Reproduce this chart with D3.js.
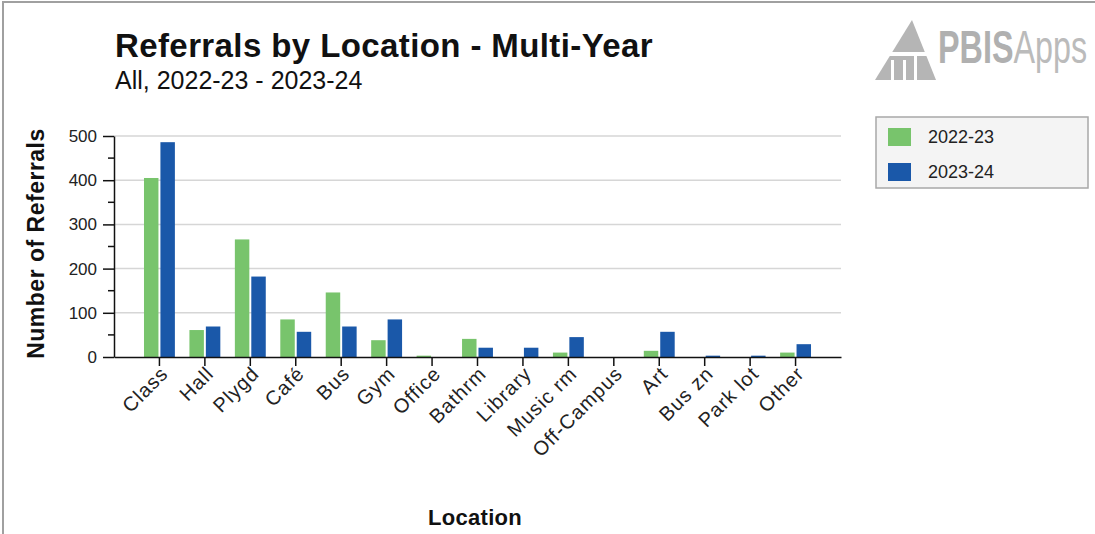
<!DOCTYPE html>
<html>
<head>
<meta charset="utf-8">
<script src="https://cdn.jsdelivr.net/npm/d3@7"></script>
<style>
  body { margin: 0; background: #fff; }
  svg text { font-family: "Liberation Sans", Arial, sans-serif; }
</style>
</head>
<body>
<div id="chart"></div>
<script>
const width = 1095;
const height = 534;

// data
const categories = ["Class", "Hall", "Plygd", "Café", "Bus", "Gym", "Office", "Bathrm", "Library", "Music rm", "Off-Campus", "Art", "Bus zn", "Park lot", "Other"];
const seriesNames = ["2022-23", "2023-24"];
const values2223 = [405, 61, 266, 85, 146, 38, 3, 41, 0, 10, 0, 14, 0, 0, 10];
const values2324 = [486, 69, 182, 57, 69, 85, 0, 21, 21, 45, 0, 57, 3, 3, 29];
const yTicks = [0, 100, 200, 300, 400, 500];
const colors = ["#78c46c", "#1a58a9"];

const svg = d3.select("#chart")
    .append("svg")
    .attr("width", width)
    .attr("height", height);

// frame
svg.append("rect")
    .attr("x", 3).attr("y", 2)
    .attr("width", width + 10).attr("height", height + 10)
    .attr("fill", "#fff")
    .attr("stroke", "#a0a0a0")
    .attr("stroke-width", 2);

const plot = { left: 114, right: 841, top: 136, bottom: 357 };

const x0 = d3.scaleBand()
    .domain(categories)
    .range([plot.left, plot.right])
    .paddingInner(0)
    .paddingOuter(0.5);

const groupW = x0.bandwidth() * 0.68;
const x1 = d3.scaleBand()
    .domain(seriesNames)
    .range([-groupW / 2, groupW / 2])
    .paddingInner(0.12);

const y = d3.scaleLinear()
    .domain([0, 500])
    .range([plot.bottom, plot.top]);

// grid
svg.append("g")
    .selectAll("line")
    .data(yTicks.filter(d => d > 0))
    .enter()
    .append("line")
    .attr("x1", plot.left)
    .attr("x2", plot.right)
    .attr("y1", d => y(d))
    .attr("y2", d => y(d))
    .attr("stroke", "#d6d6d6")
    .attr("stroke-width", 1.5);

// bars
const rows = categories.map((c, i) => ({ cat: c, vals: [values2223[i], values2324[i]] }));

const group = svg.append("g")
    .selectAll("g")
    .data(rows)
    .enter()
    .append("g")
    .attr("transform", d => `translate(${x0(d.cat) + x0.bandwidth() / 2},0)`);

group.selectAll("rect")
    .data(d => d.vals.map((v, i) => ({ key: seriesNames[i], v: v, i: i })))
    .enter()
    .append("rect")
    .filter(d => d.v > 0)
    .attr("x", d => x1(d.key))
    .attr("y", d => y(d.v))
    .attr("width", x1.bandwidth())
    .attr("height", d => y(0) - y(d.v))
    .attr("fill", d => colors[d.i]);

// y axis
const yAxis = svg.append("g")
    .attr("transform", `translate(${plot.left},0)`)
    .call(d3.axisLeft(y).tickValues(yTicks).tickSize(11).tickPadding(6).tickSizeOuter(0));
yAxis.select(".domain").attr("stroke", "#111").attr("stroke-width", 1.5);
yAxis.selectAll(".tick line").attr("stroke", "#111").attr("stroke-width", 1.5);
yAxis.selectAll("text").style("font-size", "17px").attr("fill", "#222");

// minor ticks
svg.append("g")
    .selectAll("line")
    .data(d3.range(50, 500, 100))
    .enter()
    .append("line")
    .attr("x1", plot.left - 6)
    .attr("x2", plot.left)
    .attr("y1", d => y(d))
    .attr("y2", d => y(d))
    .attr("stroke", "#111")
    .attr("stroke-width", 1.5);

// x axis
const xAxis = svg.append("g")
    .attr("transform", `translate(0,${plot.bottom})`)
    .call(d3.axisBottom(x0).tickSize(9).tickSizeOuter(0));
xAxis.select(".domain").attr("stroke", "#111").attr("stroke-width", 1.5);
xAxis.selectAll(".tick line").attr("stroke", "#111").attr("stroke-width", 1.5);
xAxis.selectAll("text")
    .style("font-size", "20px")
    .style("letter-spacing", "1px")
    .attr("fill", "#222")
    .attr("text-anchor", "end")
    .attr("dy", "0.35em")
    .attr("transform", "translate(5,13) rotate(-45)")
    .attr("y", 0)
    .attr("x", 0);

// titles
svg.append("text")
    .attr("x", 115).attr("y", 57)
    .style("font-size", "33px")
    .style("font-weight", "bold")
    .style("letter-spacing", "0.4px")
    .attr("fill", "#111")
    .text("Referrals by Location - Multi-Year");

svg.append("text")
    .attr("x", 115).attr("y", 89)
    .style("font-size", "25px")
    .attr("fill", "#111")
    .text("All, 2022-23 - 2023-24");

svg.append("text")
    .attr("transform", `translate(44,${(plot.top + plot.bottom) / 2 - 3}) rotate(-90)`)
    .attr("text-anchor", "middle")
    .style("font-size", "23px")
    .style("font-weight", "bold")
    .style("letter-spacing", "0.5px")
    .attr("fill", "#111")
    .text("Number of Referrals");

svg.append("text")
    .attr("x", 475).attr("y", 525)
    .attr("text-anchor", "middle")
    .style("font-size", "22px")
    .style("font-weight", "bold")
    .style("letter-spacing", "0.3px")
    .attr("fill", "#111")
    .text("Location");

// legend
const legend = svg.append("g").attr("transform", "translate(876,117)");
legend.append("rect")
    .attr("width", 212).attr("height", 71)
    .attr("fill", "#f4f4f4")
    .attr("stroke", "#a8a8a8")
    .attr("stroke-width", 1.5);
seriesNames.forEach((s, i) => {
    legend.append("rect")
        .attr("x", 12).attr("y", 11 + i * 35)
        .attr("width", 23).attr("height", 18)
        .attr("fill", colors[i]);
    legend.append("text")
        .attr("x", 52).attr("y", 26 + i * 35)
        .style("font-size", "18px")
        .attr("fill", "#222")
        .text(s);
});

// logo
const logo = svg.append("g");
logo.append("path")
    .attr("d", "M912,20 L936,80 L875,80 Z")
    .attr("fill", "#b5b5b5");
logo.append("rect").attr("x", 885).attr("y", 52).attr("width", 45).attr("height", 4).attr("fill", "#fff");
logo.append("rect").attr("x", 891).attr("y", 60).attr("width", 3).attr("height", 20).attr("fill", "#fff");
logo.append("rect").attr("x", 903).attr("y", 60).attr("width", 3).attr("height", 20).attr("fill", "#fff");
logo.append("rect").attr("x", 914).attr("y", 56).attr("width", 3).attr("height", 24).attr("fill", "#fff");
const logoText = logo.append("text")
    .attr("transform", "translate(938,63) scale(0.98,1.4)")
    .style("font-size", "33px")
    .attr("fill", "#b0b0b0");
logoText.append("tspan").style("font-weight", "bold").text("PBIS");
logoText.append("tspan").style("font-weight", "300").attr("fill", "#bbbbbb").text("Apps");
</script>
</body>
</html>
